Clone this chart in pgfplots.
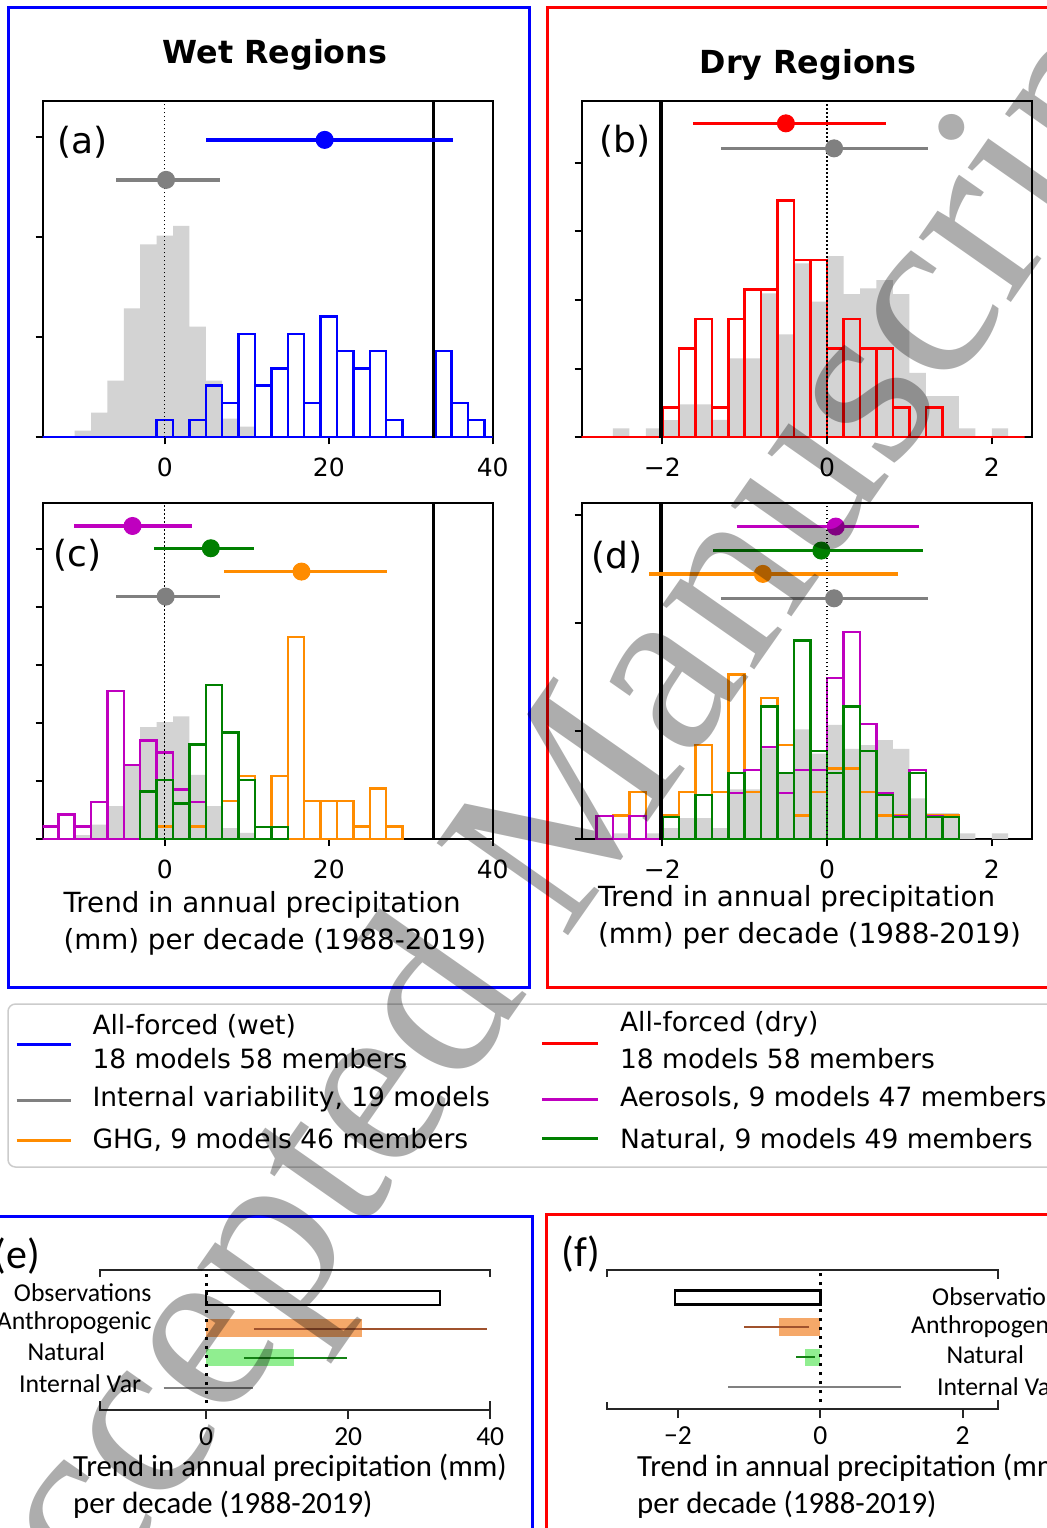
\documentclass[border=0pt]{standalone}
\usepackage{fontspec}
\usepackage{pgfplots}
\pgfplotsset{compat=1.18}
\setmainfont{DejaVu Sans}
\newfontfamily\carlito{Carlito}
\newfontfamily\wmfont{Liberation Serif}

\definecolor{mblue}{RGB}{0,0,255}
\definecolor{mred}{RGB}{255,0,0}
\definecolor{mgray}{RGB}{128,128,128}
\definecolor{hgray}{RGB}{211,211,211}
\definecolor{mmag}{RGB}{191,0,191}
\definecolor{mgreen}{RGB}{0,128,0}
\definecolor{morange}{RGB}{255,140,0}
\definecolor{anthfill}{RGB}{245,168,105}
\definecolor{natfill}{RGB}{144,238,144}
\definecolor{sienna}{RGB}{160,82,45}
\definecolor{dgreen}{RGB}{20,130,20}

\pgfplotsset{
 histax/.style={
   scale only axis, width=180pt,
   axis line style={line width=0.8pt},
   tick align=outside, tick pos=left,
   major tick length=2.8pt,
   tick style={black, line width=0.8pt},
   yticklabels={},
   xticklabel style={font=\fontsize{10}{12}\selectfont, yshift=-2pt},
 },
 hist/.style={ybar interval, fill=none, line width=1pt},
 ghist/.style={ybar interval, fill=hgray, draw=none},
 ebar/.style={line width=1.3pt},
 edot/.style={only marks, mark=*, mark size=3.4pt},
 zline/.style={black, line width=0.5pt, dash pattern=on 0.7pt off 0.9pt},
 oline/.style={black, line width=1.4pt},
 barax/.style={
   scale only axis,
   axis line style={draw=none},
   tick align=outside, xtick pos=left, ytick=\empty,
   major tick length=3.6pt,
   tick style={black!85, line width=0.8pt},
   xticklabel style={font=\carlito\fontsize{11}{13}\selectfont},
   clip=false,
 },
}

\begin{document}
\begin{tikzpicture}[x=0.4pt,y=-0.4pt]
\useasboundingbox (0,0) rectangle (1047,1528);
\clip (0,0) rectangle (1047,1528);
\fill[white] (0,0) rectangle (1047,1528);

\coordinate (Apos) at (42.7,437.3);
\coordinate (Bpos) at (581.7,437.3);
\coordinate (Cpos) at (42.7,839);
\coordinate (Dpos) at (581.7,839);
\coordinate (Epos) at (99.7,1410.1);
\coordinate (Fpos) at (606.7,1409);

% outer frames
\draw[mblue, line width=1.2pt] (8.7,7.8) rectangle (529.5,987);
\draw[mred, line width=1.2pt] (547.5,7.8) rectangle (1070,987);
\draw[mblue, line width=1.2pt] (-10,1216.5) rectangle (532,1545);
\draw[mred, line width=1.2pt] (546,1214) rectangle (1070,1545);

% titles
\node[font=\bfseries\fontsize{12.7}{15}\selectfont, anchor=base] at (275,63) {Wet Regions};
\node[font=\bfseries\fontsize{12.7}{15}\selectfont, anchor=base] at (808,73) {Dry Regions};

% ---------------- (a)
\begin{axis}[histax, at={(Apos)}, anchor=south west, height=134.64pt,
  xmin=-14.9, xmax=40, ymin=0, ymax=0.1683,
  xtick={0,20,40}, xticklabels={0,20,40}, ytick={0,0.05,0.1,0.15}]
\addplot[ghist] coordinates {(-11,0.0033) (-9,0.0123) (-7,0.0283) (-5,0.0645) (-3,0.0965) (-1,0.1008) (1,0.1057) (3,0.0553) (5,0.0283) (7,0.0093) (9,0.0053) (11,0)};
\addplot[hist, draw=mblue] coordinates {(-15,0) (-13,0) (-11,0) (-9,0) (-7,0) (-5,0) (-3,0) (-1,0.00862) (1,0) (3,0.00862) (5,0.02586) (7,0.01724) (9,0.05172) (11,0.02586) (13,0.03448) (15,0.05172) (17,0.01724) (19,0.06034) (21,0.0431) (23,0.03448) (25,0.0431) (27,0.00862) (29,0) (31,0) (33,0.0431) (35,0.01724) (37,0.00862) (39,0) (41,0)};
\addplot[zline] coordinates {(0,-1) (0,1)};
\addplot[oline] coordinates {(32.8,-1) (32.8,1)};
\addplot[ebar, mgray] coordinates {(-5.9,0.1287) (6.7,0.1287)};
\addplot[edot, mgray] coordinates {(0.15,0.1287)};
\addplot[ebar, mblue] coordinates {(5.08,0.1487) (35.2,0.1487)};
\addplot[edot, mblue] coordinates {(19.5,0.1487)};
\end{axis}

% ---------------- (b)
\begin{axis}[histax, at={(Bpos)}, anchor=south west, height=134.5pt,
  xmin=-2.98, xmax=2.485, ymin=0, ymax=0.9796,
  xtick={-2,0,2}, xticklabels={−2,0,2}, ytick={0,0.2,0.4,0.6,0.8}]
\addplot[ghist] coordinates {(-2.6,0.0262) (-2.4,0) (-2.2,0.0262) (-2.0,0.05) (-1.8,0.0961) (-1.6,0.0961) (-1.4,0.0505) (-1.2,0.23) (-1.0,0.23) (-0.8,0.419) (-0.6,0.30) (-0.4,0.507) (-0.2,0.395) (0,0.528) (0.2,0.417) (0.4,0.434) (0.6,0.458) (0.8,0.417) (1.0,0.188) (1.2,0.12) (1.4,0.12) (1.6,0.026) (1.8,0) (2.0,0.026) (2.2,0)};
\addplot[hist, draw=mred] coordinates {(-3.0,0) (-2.8,0) (-2.6,0) (-2.4,0) (-2.2,0) (-2.0,0.0862) (-1.8,0.2586) (-1.6,0.3448) (-1.4,0.0862) (-1.2,0.3448) (-1.0,0.431) (-0.8,0.431) (-0.6,0.6897) (-0.4,0.5172) (-0.2,0.5172) (0,0.2586) (0.2,0.3448) (0.4,0.2586) (0.6,0.2586) (0.8,0.0862) (1.0,0) (1.2,0.0862) (1.4,0) (1.6,0) (1.8,0) (2.0,0) (2.2,0) (2.4,0)};
\addplot[zline] coordinates {(0,-5) (0,5)};
\addplot[oline] coordinates {(-2.02,-5) (-2.02,5)};
\addplot[ebar, mred] coordinates {(-1.63,0.9146) (0.71,0.9146)};
\addplot[edot, mred] coordinates {(-0.50,0.9146)};
\addplot[ebar, mgray] coordinates {(-1.29,0.8417) (1.22,0.8417)};
\addplot[edot, mgray] coordinates {(0.085,0.8417)};
\end{axis}

% ---------------- (c)
\begin{axis}[histax, at={(Cpos)}, anchor=south west, height=134.3pt,
  xmin=-14.9, xmax=40, ymin=0, ymax=0.2894,
  xtick={0,20,40}, xticklabels={0,20,40}, ytick={0,0.05,0.1,0.15,0.2,0.25}]
\addplot[ghist] coordinates {(-11,0.0033) (-9,0.0123) (-7,0.0283) (-5,0.0645) (-3,0.0965) (-1,0.1008) (1,0.1057) (3,0.0553) (5,0.0283) (7,0.0093) (9,0.0053) (11,0)};
\addplot[hist, draw=mmag] coordinates {(-15,0.01064) (-13,0.02128) (-11,0.01064) (-9,0.03191) (-7,0.12766) (-5,0.06383) (-3,0.08511) (-1,0.07447) (1,0.04255) (3,0.03191) (5,0)};
\addplot[hist, draw=morange] coordinates {(-1,0.01087) (1,0) (3,0.01087) (5,0) (7,0.03261) (9,0.05435) (11,0) (13,0.05435) (15,0.17391) (17,0.03261) (19,0.03261) (21,0.03261) (23,0.01087) (25,0.04348) (27,0.01087) (29,0)};
\addplot[hist, draw=mgreen] coordinates {(-3,0.04082) (-1,0.05102) (1,0.03061) (3,0.08163) (5,0.13265) (7,0.09184) (9,0.05102) (11,0.0102) (13,0.0102) (15,0)};
\addplot[zline] coordinates {(0,-1) (0,1)};
\addplot[oline] coordinates {(32.8,-1) (32.8,1)};
\addplot[ebar, mmag] coordinates {(-11.06,0.2698) (3.33,0.2698)};
\addplot[edot, mmag] coordinates {(-3.94,0.2698)};
\addplot[ebar, mgreen] coordinates {(-1.30,0.2506) (10.85,0.2506)};
\addplot[edot, mgreen] coordinates {(5.61,0.2506)};
\addplot[ebar, morange] coordinates {(7.24,0.2305) (27.15,0.2305)};
\addplot[edot, morange] coordinates {(16.67,0.2305)};
\addplot[ebar, mgray] coordinates {(-5.9,0.2089) (6.7,0.2089)};
\addplot[edot, mgray] coordinates {(0.1,0.2089)};
\end{axis}

% ---------------- (d)
\begin{axis}[histax, at={(Dpos)}, anchor=south west, height=134.3pt,
  xmin=-2.98, xmax=2.485, ymin=0, ymax=1.554,
  xtick={-2,0,2}, xticklabels={−2,0,2}, ytick={0,0.5,1,1.5}]
\addplot[ghist] coordinates {(-2.6,0.0262) (-2.4,0) (-2.2,0.0262) (-2.0,0.05) (-1.8,0.0961) (-1.6,0.0961) (-1.4,0.0505) (-1.2,0.23) (-1.0,0.23) (-0.8,0.419) (-0.6,0.30) (-0.4,0.507) (-0.2,0.395) (0,0.528) (0.2,0.417) (0.4,0.434) (0.6,0.458) (0.8,0.417) (1.0,0.188) (1.2,0.12) (1.4,0.12) (1.6,0.026) (1.8,0) (2.0,0.026) (2.2,0)};
\addplot[hist, draw=morange] coordinates {(-2.6,0.1087) (-2.4,0.21739) (-2.2,0) (-2.0,0.1087) (-1.8,0.21739) (-1.6,0.43478) (-1.4,0.21739) (-1.2,0.76087) (-1.0,0.21739) (-0.8,0.65217) (-0.6,0.43478) (-0.4,0.1087) (-0.2,0.21739) (0,0.32609) (0.2,0.32609) (0.4,0.21739) (0.6,0.1087) (0.8,0.1087) (1.0,0) (1.2,0.1087) (1.4,0.1087) (1.6,0)};
\addplot[hist, draw=mmag] coordinates {(-2.8,0.10638) (-2.6,0) (-2.4,0.10638) (-2.2,0) (-2.0,0) (-1.8,0) (-1.6,0) (-1.4,0) (-1.2,0.21277) (-1.0,0.31915) (-0.8,0.42553) (-0.6,0.21277) (-0.4,0.31915) (-0.2,0.31915) (0,0.74468) (0.2,0.95745) (0.4,0.53191) (0.6,0.21277) (0.8,0.10638) (1.0,0.31915) (1.2,0.10638) (1.4,0)};
\addplot[hist, draw=mgreen] coordinates {(-2.0,0.10204) (-1.8,0) (-1.6,0.20408) (-1.4,0) (-1.2,0.30612) (-1.0,0) (-0.8,0.61224) (-0.6,0.30612) (-0.4,0.91837) (-0.2,0.40816) (0,0.30612) (0.2,0.61224) (0.4,0.40816) (0.6,0.20408) (0.8,0.10204) (1.0,0.30612) (1.2,0.10204) (1.4,0.10204) (1.6,0)};
\addplot[zline] coordinates {(0,-5) (0,5)};
\addplot[oline] coordinates {(-2.02,-5) (-2.02,5)};
\addplot[ebar, mmag] coordinates {(-1.10,1.446) (1.12,1.446)};
\addplot[edot, mmag] coordinates {(0.105,1.446)};
\addplot[ebar, mgreen] coordinates {(-1.38,1.335) (1.17,1.335)};
\addplot[edot, mgreen] coordinates {(-0.07,1.335)};
\addplot[ebar, morange] coordinates {(-2.16,1.227) (0.86,1.227)};
\addplot[edot, morange] coordinates {(-0.78,1.227)};
\addplot[ebar, mgray] coordinates {(-1.29,1.114) (1.22,1.114)};
\addplot[edot, mgray] coordinates {(0.085,1.114)};
\end{axis}

% panel labels
\node[font=\fontsize{14.4}{16}\selectfont, inner sep=0] at (82.5,142) {(a)};
\node[font=\fontsize{14.4}{16}\selectfont, inner sep=0] at (625,141) {(b)};
\node[font=\fontsize{14.4}{16}\selectfont, inner sep=0] at (77.2,555) {(c)};
\node[font=\fontsize{14.4}{16}\selectfont, inner sep=0] at (616.7,556.7) {(d)};

% x labels (c), (d)
\node[font=\fontsize{11.1}{13}\selectfont, anchor=west, inner sep=0] at (63,905) {Trend in annual precipitation};
\node[font=\fontsize{11.1}{13}\selectfont, anchor=west, inner sep=0] at (63,942) {(mm) per decade (1988-2019)};
\node[font=\fontsize{11.1}{13}\selectfont, anchor=west, inner sep=0] at (597.6,899) {Trend in annual precipitation};
\node[font=\fontsize{11.1}{13}\selectfont, anchor=west, inner sep=0] at (597.6,936) {(mm) per decade (1988-2019)};

% legend
\draw[draw=black!20, line width=0.6pt, rounded corners=3pt, fill=white] (8,1004) rectangle (1070,1167);
\begin{scope}[every node/.style={font=\fontsize{10.6}{12.5}\selectfont, anchor=west, inner sep=0}]
\draw[mblue, line width=1.2pt] (16.7,1044) -- (71.4,1044);
\node at (92,1026) {All-forced (wet)};
\node at (92,1058.5) {18 models 58 members};
\draw[mgray, line width=1.2pt] (16.7,1100) -- (71.4,1100);
\node at (92,1099) {Internal variability, 19 models};
\draw[morange, line width=1.2pt] (16.7,1140) -- (71.4,1140);
\node at (92,1140) {GHG, 9 models 46 members};
\draw[mred, line width=1.2pt] (542,1043) -- (598,1043);
\node at (619.6,1024) {All-forced (dry)};
\node at (619.6,1058.5) {18 models 58 members};
\draw[mmag, line width=1.2pt] (542,1099) -- (598,1099);
\node at (619.6,1098) {Aerosols, 9 models 47 members};
\draw[mgreen, line width=1.2pt] (542,1138) -- (598,1138);
\node at (619.6,1140) {Natural, 9 models 49 members};
\end{scope}

% ---------------- (e)
\begin{axis}[barax, at={(Epos)}, anchor=south west, width=156.2pt, height=55.96pt,
  xmin=-15, xmax=40, ymin=0.25, ymax=4.93,
  xtick={0,20,40}, xticklabels={0,20,40}]
\addplot[xbar, bar shift=0pt, bar width=5.6pt, draw=black, fill=white, line width=1pt] coordinates {(32.9,4)};
\addplot[xbar, bar shift=0pt, bar width=7.2pt, draw=none, fill=anthfill] coordinates {(22.0,3)};
\addplot[xbar, bar shift=0pt, bar width=6.8pt, draw=none, fill=natfill] coordinates {(12.3,2)};
\addplot[sienna, line width=0.9pt] coordinates {(6.7,2.97) (39.6,2.97)};
\addplot[dgreen, line width=0.9pt] coordinates {(5.3,2) (19.9,2)};
\addplot[mgray, line width=0.9pt] coordinates {(-6.0,1) (6.6,1)};
\addplot[black, line width=1.2pt, dash pattern=on 1.2pt off 2.4pt] coordinates {(0,0.48) (0,4.8)};
\draw[black!85, line width=0.8pt] (rel axis cs:0,1) ++(0pt,-2.8pt) -- (rel axis cs:0,1) -- (rel axis cs:1,1) -- ++(0pt,-2.8pt);
\draw[black!85, line width=0.8pt] (rel axis cs:0,0) ++(0pt,3.6pt) -- (rel axis cs:0,0) -- (rel axis cs:1,0) -- ++(0pt,3.6pt);
\end{axis}

% ---------------- (f)
\begin{axis}[barax, at={(Fpos)}, anchor=south west, width=156.64pt, height=55.6pt,
  xmin=-3, xmax=2.5, ymin=0.277, ymax=4.91,
  xtick={-2,0,2}, xticklabels={−2,0,2}]
\addplot[xbar, bar shift=0pt, bar width=5.6pt, draw=black, fill=white, line width=1pt] coordinates {(-2.04,4)};
\addplot[xbar, bar shift=0pt, bar width=7.2pt, draw=none, fill=anthfill] coordinates {(-0.585,3)};
\addplot[xbar, bar shift=0pt, bar width=6.8pt, draw=none, fill=natfill] coordinates {(-0.21,2)};
\addplot[sienna, line width=0.9pt] coordinates {(-1.07,3) (-0.16,3)};
\addplot[dgreen, line width=0.9pt] coordinates {(-0.34,2) (-0.08,2)};
\addplot[mgray, line width=0.9pt] coordinates {(-1.29,1) (1.14,1)};
\addplot[black, line width=1.2pt, dash pattern=on 1.2pt off 2.4pt] coordinates {(0,0.5) (0,4.8)};
\draw[black!85, line width=0.8pt] (rel axis cs:0,1) ++(0pt,-2.8pt) -- (rel axis cs:0,1) -- (rel axis cs:1,1) -- ++(0pt,-3.6pt);
\draw[black!85, line width=0.8pt] (rel axis cs:0,0) ++(0pt,2.8pt) -- (rel axis cs:0,0) -- (rel axis cs:1,0) -- ++(0pt,3.6pt);
\end{axis}

% (e),(f) texts
\begin{scope}[every node/.style={font=\carlito\fontsize{10.3}{12}\selectfont, inner sep=0}]
\node[anchor=west] at (13.5,1292.2) {Observations};
\node[anchor=east] at (152,1322.6) {Anthropogenic};
\node[anchor=west] at (27,1351.3) {Natural};
\node[anchor=west] at (18.6,1384.1) {Internal Var};
\node[anchor=west] at (931.7,1296.7) {Observations};
\node[anchor=west] at (910.7,1326.7) {Anthropogenic};
\node[anchor=west] at (946,1355) {Natural};
\node[anchor=west] at (936.7,1386.7) {Internal Var};
\end{scope}
\node[font=\carlito\fontsize{16.8}{18}\selectfont, inner sep=0] at (16.9,1256) {(e)};
\node[font=\carlito\fontsize{16.8}{18}\selectfont, inner sep=0] at (580.8,1254.2) {(f)};
\begin{scope}[every node/.style={font=\carlito\fontsize{12.3}{14}\selectfont, inner sep=0, anchor=west}]
\node at (72.7,1468) {Trend in annual precipitation (mm)};
\node at (72.7,1505) {per decade (1988-2019)};
\node at (636.7,1468) {Trend in annual precipitation (mm)};
\node at (636.7,1505) {per decade (1988-2019)};
\end{scope}

% watermark
\node[anchor=base west, rotate=55, inner sep=0, text=black, text opacity=0.32,
  font=\wmfont\fontsize{98}{98}\selectfont] at (-2,1750) {Accepted Manuscript};
\end{tikzpicture}
\end{document}
